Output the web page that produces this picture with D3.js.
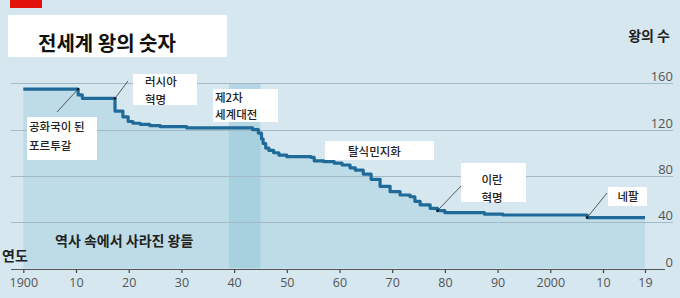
<!DOCTYPE html>
<html><head><meta charset="utf-8">
<script src="https://cdn.jsdelivr.net/npm/d3@7"></script>
<style>
html,body{margin:0;padding:0;background:#d6e7f0;}
svg{display:block;}
text{font-family:"Noto Sans CJK KR","Noto Sans",sans-serif;}
</style></head>
<body>
<svg id="c" width="680" height="298"></svg>
<script>
// ---- data ----
const years = [1900, 1910.4, 1911.2, 1917.4, 1918.9, 1919.9, 1920.8, 1922.2, 1924, 1926, 1931, 1943.5, 1944.6, 1945.2, 1945.5, 1946, 1946.6, 1947.5, 1948.5, 1950, 1954.6, 1955.2, 1957, 1959, 1960.5, 1962, 1963, 1964.5, 1966, 1967.7, 1969.6, 1971.5, 1973.4, 1974.3, 1975.3, 1977.2, 1978.6, 1980, 1987.5, 1991, 2007, 2019];
const kings = [155, 150, 147, 136, 131, 127, 125.5, 124.5, 123.5, 122.5, 121.5, 120, 117, 112, 108, 104, 102, 100, 98, 96.6, 96, 93, 92.3, 91, 89.4, 87, 85, 81.6, 77, 71, 66.4, 63.5, 62, 58, 55, 52, 50, 48.2, 47, 46.2, 44, 44];
const xTickValues = [1900, 1910, 1920, 1930, 1940, 1950, 1960, 1970, 1980, 1990, 2000, 2010, 2019];
const xTickLabels = ["1900", "10", "20", "30", "40", "50", "60", "70", "80", "90", "2000", "10", "19"];
const yTickValues = [0, 40, 80, 120, 160];
const warYears = [1939, 1945];
const title = "전세계 왕의 숫자";
const yTitle = "왕의 수";
const xTitle = "연도";
const areaLabel = "역사 속에서 사라진 왕들";

const svg = d3.select("#c");
const W = 680, H = 298;
const x = d3.scaleLinear().domain([1900, 2010, 2019]).range([23.3, 603, 645]);
const y = d3.scaleLinear().domain([0, 160]).range([268.5, 83.3]);
const data = years.map((yr, i) => ({yr, v: kings[i]}));

svg.append("rect").attr("width", W).attr("height", H).attr("fill", "#d6e7f0");

// area under line
const area = d3.area().curve(d3.curveStepAfter)
  .x(d => x(d.yr)).y0(y(0)).y1(d => y(d.v));
svg.append("path").datum(data).attr("d", area).attr("fill", "#bddce8");

// WWII band
svg.append("rect")
  .attr("x", x(warYears[0])).attr("width", x(warYears[1]) - x(warYears[0]))
  .attr("y", y(160)).attr("height", y(0) - y(160))
  .attr("fill", "#8fc3d6").attr("opacity", 0.45);

// gridlines
svg.append("g").selectAll("line").data(yTickValues.filter(d => d > 0)).join("line")
  .attr("x1", 11).attr("x2", 673)
  .attr("y1", d => Math.round(y(d)) + 0.5).attr("y2", d => Math.round(y(d)) + 0.5)
  .attr("stroke", "#a3b9c6").attr("stroke-width", 1);

// y labels
svg.append("g").selectAll("text").data(yTickValues).join("text")
  .attr("x", 673).attr("y", d => y(d) - 7)
  .attr("text-anchor", "end").attr("dominant-baseline", "central")
  .style("font-family", "'Open Sans', sans-serif")
  .attr("font-size", 13).attr("fill", "#555")
  .text(d => d);

// x axis
const xAxis = d3.axisBottom(x).tickValues(xTickValues)
  .tickFormat((d, i) => xTickLabels[i]).tickSizeInner(4).tickSizeOuter(0).tickPadding(5);
const gx = svg.append("g").attr("transform", `translate(0,${Math.round(y(0))})`).call(xAxis);
gx.select(".domain").remove();
gx.selectAll(".tick line").attr("stroke", "#444").attr("stroke-width", 1.2);
gx.selectAll(".tick text").style("font-family", "'Open Sans', sans-serif")
  .attr("font-size", 12.5).attr("fill", "#555");
svg.append("line").attr("x1", 11).attr("x2", 665)
  .attr("y1", Math.round(y(0)) + 0.5).attr("y2", Math.round(y(0)) + 0.5)
  .attr("stroke", "#555").attr("stroke-width", 1.2);

// line
const line = d3.line().curve(d3.curveStepAfter).x(d => x(d.yr)).y(d => y(d.v));
svg.append("path").datum(data).attr("d", line)
  .attr("fill", "none").attr("stroke", "#1f6a99").attr("stroke-width", 3.2)
  .attr("stroke-linejoin", "round");

// red tag & title
svg.append("rect").attr("x", 10).attr("y", 0).attr("width", 32).attr("height", 8).attr("fill", "#e3120b");
svg.append("rect").attr("x", 8).attr("y", 15).attr("width", 219).attr("height", 42).attr("fill", "#fff");
svg.append("text").attr("x", 38).attr("y", 42).attr("dominant-baseline", "central")
  .attr("font-size", 20).attr("font-weight", 700).attr("fill", "#111").text(title);

svg.append("text").attr("x", 670).attr("y", 35).attr("text-anchor", "end").attr("dominant-baseline", "central")
  .attr("font-size", 14).attr("font-weight", 700).attr("fill", "#222").text(yTitle);
svg.append("text").attr("x", 2).attr("y", 255).attr("dominant-baseline", "central")
  .attr("font-size", 14).attr("font-weight", 700).attr("fill", "#222").text(xTitle);
svg.append("text").attr("x", 55).attr("y", 240).attr("dominant-baseline", "central")
  .attr("font-size", 14).attr("font-weight", 700).attr("fill", "#222").text(areaLabel);

// annotations
const notes = [
  {box: [27, 117, 70, 43], lines: ["공화국이 된", "포르투갈"], tx: 29, ty: [126, 145], anchor: "start", pt: [1910.4, 155], end: [57, 112]},
  {box: [133, 74, 64, 31], lines: ["러시아", "혁명"], tx: 145, ty: [81, 99], anchor: "start", pt: [1917.4, 147], end: [128, 81]},
  {box: [213, 89, 65, 33], lines: ["제2차", "세계대전"], tx: 215, ty: [97, 114], anchor: "start"},
  {box: [325, 141, 109, 19], lines: ["탈식민지화"], tx: 348, ty: [151], anchor: "start"},
  {box: [461, 163, 65, 39], lines: ["이란", "혁명"], tx: 492, ty: [179, 197], anchor: "middle", pt: [1978.6, 50], end: [461, 186]},
  {box: [608, 187, 39, 19], lines: ["네팔"], tx: 628, ty: [196], anchor: "middle", pt: [2007, 44], end: [607, 193]}
];
notes.forEach(n => {
  if (n.pt) {
    svg.append("line").attr("x1", x(n.pt[0])).attr("y1", y(n.pt[1]))
      .attr("x2", n.end[0]).attr("y2", n.end[1])
      .attr("stroke", "#333").attr("stroke-width", 0.8);
    svg.append("circle").attr("cx", x(n.pt[0])).attr("cy", y(n.pt[1])).attr("r", 1.2).attr("fill", "#111");
  }
  svg.append("rect").attr("x", n.box[0]).attr("y", n.box[1]).attr("width", n.box[2]).attr("height", n.box[3]).attr("fill", "#fff");
  n.lines.forEach((t, i) => {
    svg.append("text").attr("x", n.tx).attr("y", n.ty[i]).attr("text-anchor", n.anchor)
      .attr("dominant-baseline", "central").attr("font-size", 11.5).attr("font-weight", 500)
      .attr("fill", "#222").text(t);
  });
});
</script>
</body></html>
